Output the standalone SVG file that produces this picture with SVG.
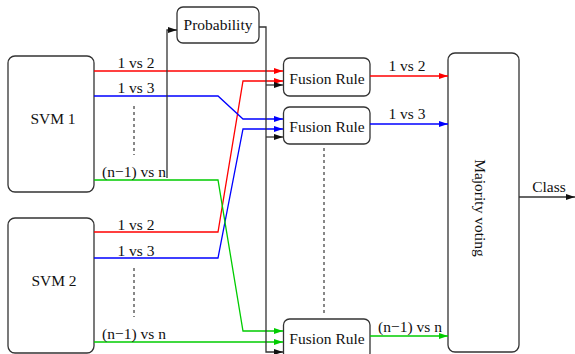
<svg xmlns="http://www.w3.org/2000/svg" width="575" height="354" viewBox="0 0 575 354">
  <style>
    .box { fill: #fff; stroke: #333; stroke-width: 1.3; }
    .lbl { font-family: "Liberation Serif", "Times New Roman", serif; font-size: 15.5px; fill: #111; }
    .mid { text-anchor: middle; }
    .c { fill: none; stroke-width: 1.3; }
    .red { stroke: #ff0000; }
    .blue { stroke: #0000ff; }
    .green { stroke: #00cc00; }
    .blk { stroke: #333; }
    .dash { stroke: #111; stroke-width: 1; stroke-dasharray: 3 3; fill: none; }
  </style>
  <defs>
    <marker id="ar-red" markerUnits="userSpaceOnUse" markerWidth="9" markerHeight="6" refX="9" refY="3" orient="auto">
      <path d="M0,0 L9,3 L0,6 z" fill="#ff0000"/>
    </marker>
    <marker id="ar-blue" markerUnits="userSpaceOnUse" markerWidth="9" markerHeight="6" refX="9" refY="3" orient="auto">
      <path d="M0,0 L9,3 L0,6 z" fill="#0000ff"/>
    </marker>
    <marker id="ar-green" markerUnits="userSpaceOnUse" markerWidth="9" markerHeight="6" refX="9" refY="3" orient="auto">
      <path d="M0,0 L9,3 L0,6 z" fill="#00cc00"/>
    </marker>
    <marker id="ar-blk" markerUnits="userSpaceOnUse" markerWidth="9" markerHeight="6" refX="9" refY="3" orient="auto">
      <path d="M0,0 L9,3 L0,6 z" fill="#111"/>
    </marker>
  </defs>

  <!-- classifiers -->
  <g id="svm1">
    <rect class="box" x="8" y="56" width="86" height="136" rx="7"/>
    <text class="lbl mid" x="53" y="124">SVM 1</text>
  </g>
  <g id="svm2">
    <rect class="box" x="8" y="218" width="86" height="135" rx="7"/>
    <text class="lbl mid" x="54" y="286">SVM 2</text>
  </g>
  <g id="probability">
    <rect class="box" x="177" y="7" width="82" height="36" rx="6"/>
    <text class="lbl mid" x="218" y="30">Probability</text>
  </g>
  <g id="fusion1">
    <rect class="box" x="283.5" y="58" width="86.5" height="38" rx="6"/>
    <text class="lbl mid" x="327" y="84">Fusion Rule</text>
  </g>
  <g id="fusion2">
    <rect class="box" x="283.5" y="107" width="86.5" height="37" rx="6"/>
    <text class="lbl mid" x="327" y="132">Fusion Rule</text>
  </g>
  <g id="fusion3">
    <rect class="box" x="283.5" y="319" width="86.5" height="40" rx="6"/>
    <text class="lbl mid" x="327" y="344">Fusion Rule</text>
  </g>
  <g id="majority">
    <rect class="box" x="448" y="53" width="71" height="299" rx="7"/>
    <text class="lbl mid" transform="translate(475,208) rotate(90)">Majority voting</text>
  </g>

  <!-- ellipsis markers -->
  <g id="ellipses">
    <line class="dash" x1="134" y1="106" x2="134" y2="155"/>
    <line class="dash" x1="134" y1="268" x2="134" y2="317"/>
    <line class="dash" x1="324" y1="148" x2="324" y2="313"/>
  </g>

  <g id="connectors">
    <!-- SVM outputs -->
    <path class="c red" d="M94,71 H283" marker-end="url(#ar-red)"/>
    <path class="c red" d="M94,232 H218 L243,81 H283" marker-end="url(#ar-red)"/>
    <path class="c blue" d="M94,96 H218 L243,119 H283" marker-end="url(#ar-blue)"/>
    <path class="c blue" d="M94,258 H218 L243,129 H283" marker-end="url(#ar-blue)"/>
    <path class="c green" d="M94,180 H218 L243,331 H283" marker-end="url(#ar-green)"/>
    <path class="c green" d="M94,342 H283" marker-end="url(#ar-green)"/>
    <!-- probability path -->
    <path class="c blk" d="M167,178 V30 H177" marker-end="url(#ar-blk)"/>
    <path class="c blk" d="M259,27 H266 V352 H283" marker-end="url(#ar-blk)"/>
    <path class="c blk" d="M266,85 H283" marker-end="url(#ar-blk)"/>
    <path class="c blk" d="M266,137 H283" marker-end="url(#ar-blk)"/>
    <!-- fusion outputs -->
    <path class="c red" d="M370,76 H448" marker-end="url(#ar-red)"/>
    <path class="c blue" d="M370,124 H448" marker-end="url(#ar-blue)"/>
    <path class="c green" d="M370,336 H448" marker-end="url(#ar-green)"/>
    <path class="c blk" d="M519,197 H575" marker-end="url(#ar-blk)"/>
  </g>

  <g id="labels">
    <text class="lbl mid" x="136" y="68">1 vs 2</text>
    <text class="lbl mid" x="136" y="93">1 vs 3</text>
    <text class="lbl mid" x="134" y="177">(n−1) vs n</text>
    <text class="lbl mid" x="136" y="230">1 vs 2</text>
    <text class="lbl mid" x="136" y="256">1 vs 3</text>
    <text class="lbl mid" x="134" y="339">(n−1) vs n</text>
    <text class="lbl mid" x="407" y="71">1 vs 2</text>
    <text class="lbl mid" x="407" y="119">1 vs 3</text>
    <text class="lbl mid" x="410" y="332">(n−1) vs n</text>
    <text class="lbl mid" x="549" y="192">Class</text>
  </g>
</svg>
